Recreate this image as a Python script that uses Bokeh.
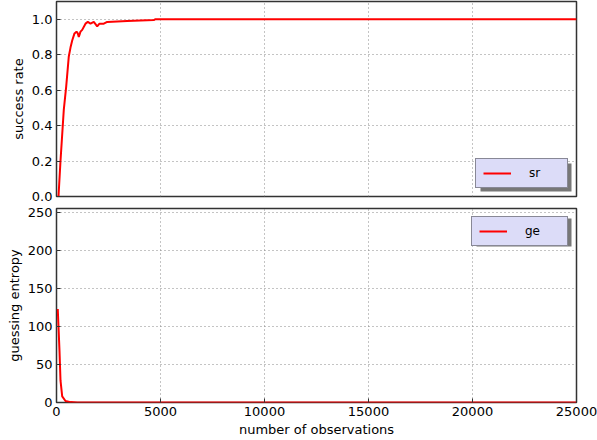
from bokeh.plotting import figure
from bokeh.layouts import column
from bokeh.models import Range1d, FixedTicker, PrintfTickFormatter, Legend, LegendItem, BoxAnnotation
try:
    from bokeh.models import Node
except ImportError:
    from bokeh.models.nodes import Node
from bokeh.embed import file_html
from bokeh.resources import INLINE

# ---- data ----
sr_obs = [50, 96, 192, 351, 466, 591, 673, 755, 865, 962, 1024, 1072, 1154, 1236,
          1394, 1505, 1635, 1793, 1957, 2067, 2274, 2438, 3399, 4678, 4760, 25000]
sr_val = [0.0, 0.0, 0.2, 0.49, 0.62, 0.79, 0.84, 0.88, 0.92, 0.93, 0.92, 0.90, 0.93, 0.94,
          0.975, 0.985, 0.975, 0.985, 0.96, 0.975, 0.975, 0.985, 0.99, 0.995, 1.0, 1.0]

ge_obs = [60, 96, 144, 192, 274, 433, 673, 1000, 25000]
ge_val = [123, 100, 68, 29, 8, 2, 0.5, 0.1, 0]

x_ticks = [0, 5000, 10000, 15000, 20000, 25000]
sr_ticks = [0.0, 0.2, 0.4, 0.6, 0.8, 1.0]
ge_ticks = [0, 50, 100, 150, 200, 250]

FONT = "DejaVu Sans"
W = 597


def style(p, yticks):
    p.outline_line_color = "#333333"
    p.outline_line_width = 1.5
    p.background_fill_color = "white"
    p.border_fill_color = "white"
    for ax in (p.xaxis[0], p.yaxis[0]):
        ax.axis_line_color = None
        ax.major_tick_in = 4
        ax.major_tick_out = 0
        ax.major_tick_line_color = "#333333"
        ax.minor_tick_line_color = None
        ax.major_label_text_font = FONT
        ax.major_label_text_font_size = "13px"
        ax.major_label_text_color = "black"
        ax.major_label_standoff = 4
        ax.axis_label_text_font = FONT
        ax.axis_label_text_font_size = "13px"
        ax.axis_label_text_font_style = "normal"
        ax.axis_label_text_color = "black"
        ax.axis_label_standoff = 3
    p.xaxis[0].ticker = FixedTicker(ticks=x_ticks)
    p.yaxis[0].ticker = FixedTicker(ticks=yticks)
    for g in (p.xgrid[0], p.ygrid[0]):
        g.grid_line_color = "#888888"
        g.grid_line_dash = "1 3"
        g.grid_line_width = 1


def add_legend(p, renderer, label, loc, label_width, top_side, margin_v):
    # shadow
    lw_total = 7 + 28 + 18 + label_width + 7
    h = 28
    if top_side:
        top = Node(target="frame", symbol="top", offset=margin_v + 3)
        bottom = Node(target="frame", symbol="top", offset=margin_v + h + 3)
    else:
        top = Node(target="frame", symbol="bottom", offset=-margin_v - h + 3)
        bottom = Node(target="frame", symbol="bottom", offset=-margin_v + 3)
    shadow = BoxAnnotation(
        left=Node(target="frame", symbol="right", offset=-8 - lw_total + 3),
        right=Node(target="frame", symbol="right", offset=-8 + 3),
        top=top, bottom=bottom,
        fill_color="#777777", fill_alpha=1.0, line_color=None, level="glyph")
    p.add_layout(shadow)
    leg = Legend(items=[LegendItem(label=label, renderers=[renderer])],
                 location=loc, margin=8, padding=7, spacing=0,
                 glyph_width=28, glyph_height=12, label_standoff=18,
                 label_width=label_width, label_height=12,
                 label_text_font=FONT, label_text_font_size="12px",
                 label_text_color="black",
                 background_fill_color="#dcdcf8", background_fill_alpha=1.0,
                 border_line_color="#333333", border_line_width=1.5)
    p.add_layout(leg)


# ---- top panel ----
p1 = figure(width=W, height=204, output_backend="svg", toolbar_location=None,
            x_range=Range1d(0, 25000), y_range=Range1d(0, 1.1),
            min_border_left=56, min_border_right=21, min_border_top=1, min_border_bottom=8)
r1 = p1.line(sr_obs, sr_val, line_color="red", line_width=2)
style(p1, sr_ticks)
p1.yaxis[0].formatter = PrintfTickFormatter(format="%.1f")
p1.yaxis[0].axis_label = "success rate"
p1.xaxis[0].visible = False
add_legend(p1, r1, "sr", "bottom_right", 31, False, 8)

# ---- bottom panel ----
p2 = figure(width=W, height=236, output_backend="svg", toolbar_location=None,
            x_range=p1.x_range, y_range=Range1d(0, 255),
            min_border_left=56, min_border_right=21, min_border_top=4, min_border_bottom=38)
r2 = p2.line(ge_obs, ge_val, line_color="red", line_width=2)
style(p2, ge_ticks)
p2.yaxis[0].axis_label = "guessing entropy"
p2.xaxis[0].axis_label = "number of observations"
add_legend(p2, r2, "ge", "top_right", 35, True, 7)

layout = column(p1, p2, spacing=0)
open("out.html", "w").write(file_html(layout, INLINE))
